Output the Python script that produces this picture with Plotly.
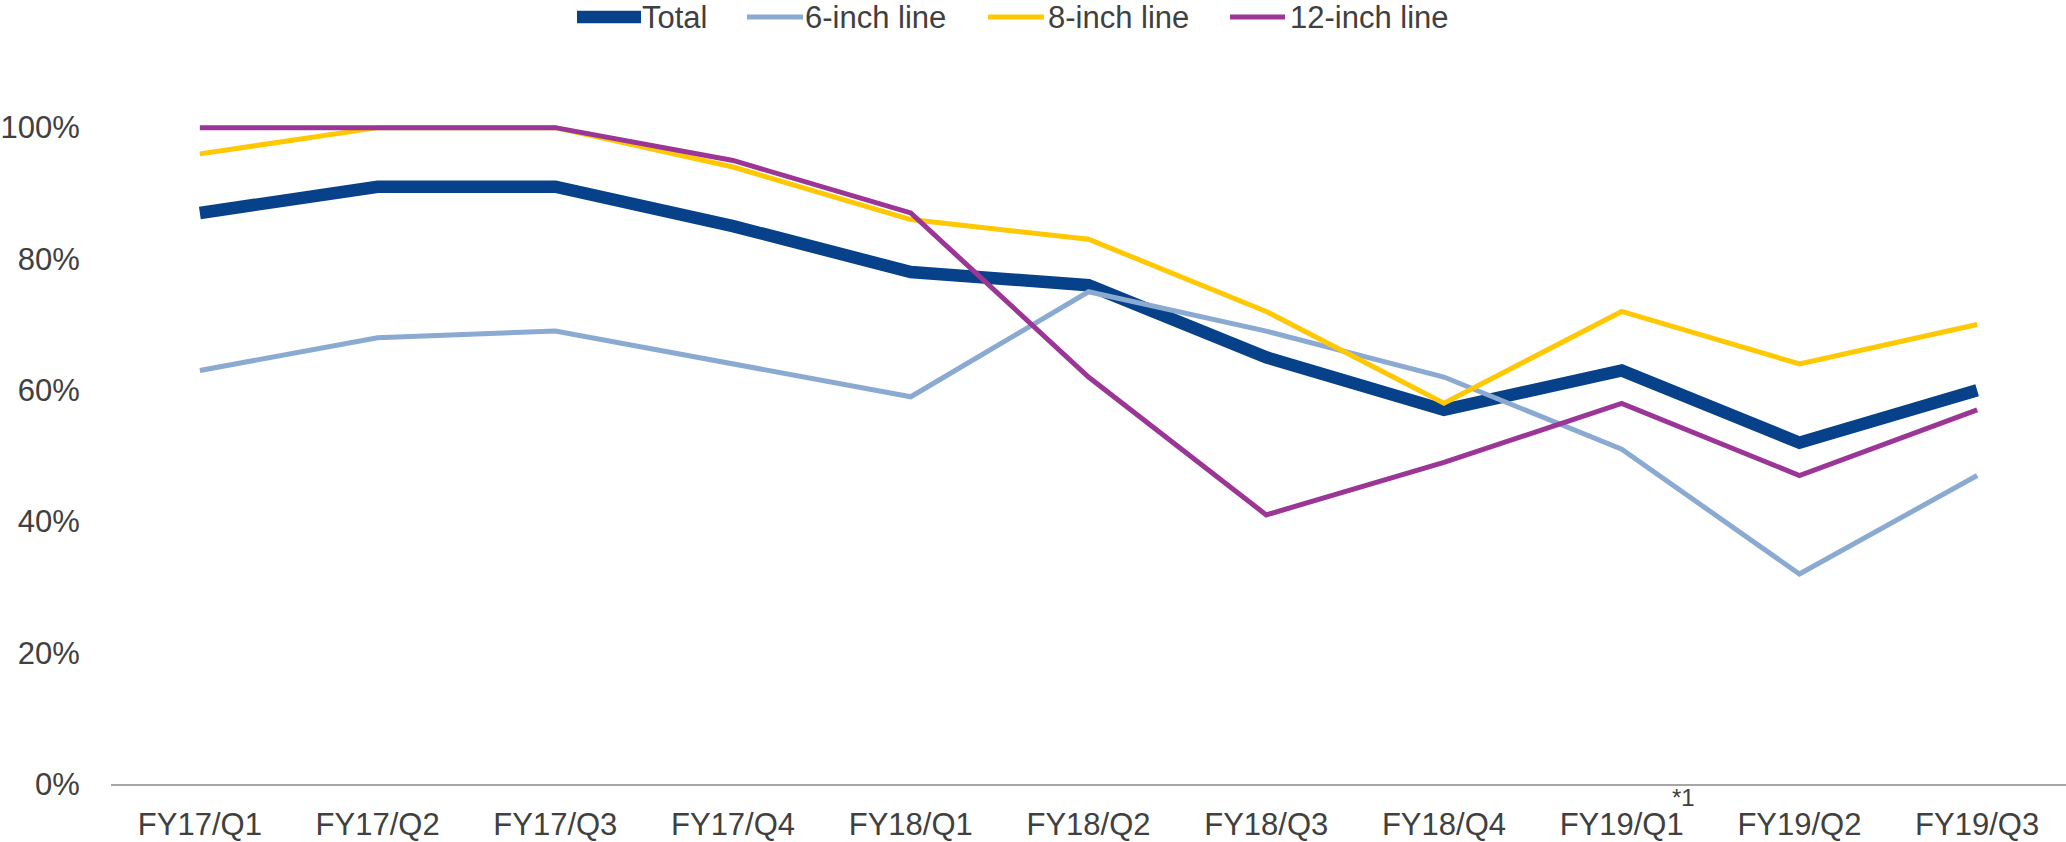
import plotly.graph_objects as go

quarters = ["FY17/Q1", "FY17/Q2", "FY17/Q3", "FY17/Q4", "FY18/Q1", "FY18/Q2",
            "FY18/Q3", "FY18/Q4", "FY19/Q1", "FY19/Q2", "FY19/Q3"]
total = [0.87, 0.91, 0.91, 0.85, 0.78, 0.76, 0.65, 0.57, 0.63, 0.52, 0.60]
line_6inch = [0.63, 0.68, 0.69, 0.64, 0.59, 0.75, 0.69, 0.62, 0.51, 0.32, 0.47]
line_8inch = [0.96, 1.00, 1.00, 0.94, 0.86, 0.83, 0.72, 0.58, 0.72, 0.64, 0.70]
line_12inch = [1.00, 1.00, 1.00, 0.95, 0.87, 0.62, 0.41, 0.49, 0.58, 0.47, 0.57]
y_ticks = [0, 0.2, 0.4, 0.6, 0.8, 1.0]
footnote_quarter = "FY19/Q1"
footnote_text = "*1"

series = [
    ("Total", total, "#06418A", 12.5),
    ("6-inch line", line_6inch, "#8AAAD2", 5),
    ("8-inch line", line_8inch, "#FFC800", 5),
    ("12-inch line", line_12inch, "#9B3696", 5),
]

W, H = 2066, 842
ML, MR, MT, MB = 111, 0, 62, 56
TEXT = "#404040"
FONT = "Liberation Sans, Arial, sans-serif"

fig = go.Figure()
for name, vals, color, width in series:
    fig.add_trace(go.Scatter(
        x=quarters, y=vals, name=name, mode="lines",
        line=dict(color=color, width=width),
        showlegend=False, cliponaxis=False,
    ))

# pixel -> paper helpers for the hand-drawn legend row
def px_x(px):
    return (px - ML) / (W - ML - MR)

def px_y(py):
    return (H - MB - py) / (H - MT - MB)

legend_row_y = 17
legend_items = [  # (sample start, sample end, text start)
    (577, 641, 640),
    (747, 803, 803),
    (988, 1044, 1046),
    (1230, 1285, 1288),
]
shapes = []
annotations = []
for (name, _, color, width), (x0, x1, tx) in zip(series, legend_items):
    shapes.append(dict(
        type="line", xref="paper", yref="paper",
        x0=px_x(x0), x1=px_x(x1), y0=px_y(legend_row_y), y1=px_y(legend_row_y),
        line=dict(color=color, width=width),
    ))
    annotations.append(dict(
        text=name, xref="paper", yref="paper", x=px_x(tx), y=px_y(legend_row_y),
        xanchor="left", yanchor="middle", showarrow=False,
        font=dict(size=31, color=TEXT, family=FONT),
    ))

annotations.append(dict(
    text=footnote_text, xref="x", yref="paper", x=footnote_quarter, y=0,
    xanchor="left", yanchor="middle", xshift=48, yshift=-13, showarrow=False,
    font=dict(size=24, color=TEXT, family=FONT),
))

fig.update_layout(
    width=W, height=H,
    margin=dict(l=ML, r=MR, t=MT, b=MB, pad=0),
    paper_bgcolor="white", plot_bgcolor="white",
    font=dict(family=FONT, size=31, color=TEXT),
    shapes=shapes, annotations=annotations,
    xaxis=dict(
        type="category", range=[-0.5, 10.5],
        showgrid=False, zeroline=False,
        showline=True, linecolor="#A6A6A6", linewidth=2,
        ticks="outside", ticklen=12, tickcolor="rgba(0,0,0,0)",
        tickfont=dict(size=31, color=TEXT, family=FONT),
    ),
    yaxis=dict(
        range=[0, 1.1], tickvals=y_ticks, tickformat=".0%",
        showgrid=False, zeroline=False, showline=False,
        ticks="outside", ticklen=24, tickcolor="rgba(0,0,0,0)",
        tickfont=dict(size=31, color=TEXT, family=FONT),
    ),
)

fig.write_html("out.html")
